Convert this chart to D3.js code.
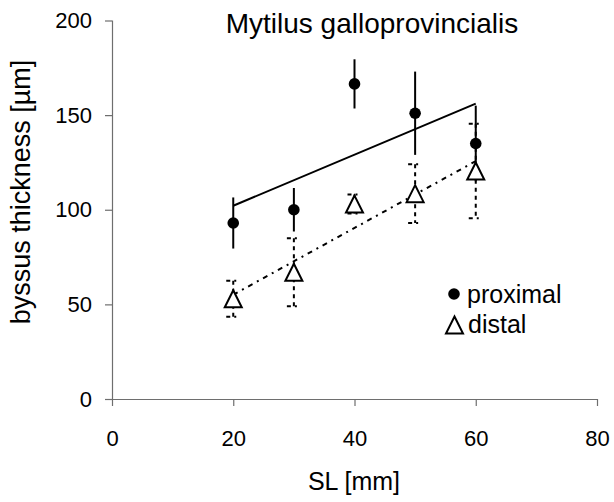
<!DOCTYPE html>
<html>
<head>
<meta charset="utf-8">
<script src="https://cdn.jsdelivr.net/npm/d3@7"></script>
<style>
  body { margin: 0; background: #fff; }
  text { font-family: "Liberation Sans", Arial, sans-serif; fill: #000; }
</style>
</head>
<body>
<div id="chart"></div>
<script>
// data
var shellLength = [20, 30, 40, 50, 60];
var proximal = [93, 100, 166.5, 151, 135];
var proximalErr = [13.5, 11.5, 13, 22, 20];
var distal = [53, 67, 103, 108.5, 120.5];
var distalErr = [9.5, 18, 5, 15.5, 25];
var xTicks = [0, 20, 40, 60, 80];
var yTicks = [0, 50, 100, 150, 200];

var svgWidth = 614;
var svgHeight = 502;
var margin = { top: 20.5, right: 17, bottom: 103, left: 112 };
var chartWidth = svgWidth - margin.left - margin.right;
var chartHeight = svgHeight - margin.top - margin.bottom;

var svg = d3.select("#chart").append("svg")
  .attr("width", svgWidth)
  .attr("height", svgHeight);

var g = svg.append("g")
  .attr("transform", `translate(${margin.left}, ${margin.top})`);

var x = d3.scaleLinear().domain([0, 80]).range([0, chartWidth]);
var y = d3.scaleLinear().domain([0, 200]).range([chartHeight, 0]);

// axes
var xAxis = g.append("g")
  .attr("transform", `translate(0, ${chartHeight})`)
  .call(d3.axisBottom(x).tickValues(xTicks).tickSize(7).tickPadding(8));
var yAxis = g.append("g")
  .call(d3.axisLeft(y).tickValues(yTicks).tickSize(7).tickPadding(13));

[xAxis, yAxis].forEach(function(a) {
  a.select(".domain").attr("stroke", "#6e6e6e").attr("stroke-width", 1.2);
  a.selectAll(".tick line").attr("stroke", "#6e6e6e").attr("stroke-width", 1.2);
  a.selectAll(".tick text").style("font-family", "'Liberation Sans', Arial, sans-serif")
    .style("font-size", "22px").attr("fill", "#000");
});
xAxis.selectAll(".tick text").attr("dy", "0.71em").attr("y", 31);
xAxis.select(".domain").attr("d", `M0,0.5H${chartWidth}`);
yAxis.select(".domain").attr("d", `M0.5,${chartHeight}V0`);

// least squares trend through the means
function fit(xs, ys) {
  var mx = d3.mean(xs), my = d3.mean(ys);
  var sxy = d3.sum(xs, (v, i) => (v - mx) * (ys[i] - my));
  var sxx = d3.sum(xs, v => (v - mx) * (v - mx));
  var b = sxy / sxx;
  return function(v) { return my + b * (v - mx); };
}
var xEnds = d3.extent(shellLength);

// proximal error bars (solid, no caps)
g.append("g").selectAll("line")
  .data(shellLength)
  .enter().append("line")
  .attr("x1", d => x(d)).attr("x2", d => x(d))
  .attr("y1", (d, i) => y(proximal[i] + proximalErr[i]))
  .attr("y2", (d, i) => y(proximal[i] - proximalErr[i]))
  .attr("stroke", "#000").attr("stroke-width", 2);

// distal error bars (dashed with caps)
var distalBars = g.append("g");
shellLength.forEach(function(d, i) {
  var top = y(distal[i] + distalErr[i]);
  var bot = y(distal[i] - distalErr[i]);
  distalBars.append("line")
    .attr("x1", x(d)).attr("x2", x(d)).attr("y1", top).attr("y2", bot)
    .attr("stroke", "#000").attr("stroke-width", 2).attr("stroke-dasharray", "4,4");
  [top, bot].forEach(function(cy) {
    distalBars.append("line")
      .attr("x1", x(d) - 7).attr("x2", x(d) + 7).attr("y1", cy).attr("y2", cy)
      .attr("stroke", "#000").attr("stroke-width", 2).attr("stroke-dasharray", "4,4,2,4");
  });
});

// trend lines
var pFit = fit(shellLength, proximal);
var dFit = fit(shellLength, distal);
g.append("line")
  .attr("x1", x(xEnds[0])).attr("x2", x(xEnds[1]))
  .attr("y1", y(pFit(xEnds[0]))).attr("y2", y(pFit(xEnds[1])))
  .attr("stroke", "#000").attr("stroke-width", 2);
g.append("line")
  .attr("x1", x(xEnds[0])).attr("x2", x(xEnds[1]))
  .attr("y1", y(dFit(xEnds[0]))).attr("y2", y(dFit(xEnds[1])))
  .attr("stroke", "#000").attr("stroke-width", 2).attr("stroke-dasharray", "5,5,2,5");

// markers
var triPath = "M0,-8.5L8.5,8.5L-8.5,8.5Z";
g.append("g").selectAll("path")
  .data(shellLength)
  .enter().append("path")
  .attr("d", triPath)
  .attr("transform", (d, i) => `translate(${x(d)}, ${y(distal[i])})`)
  .attr("fill", "#fff").attr("stroke", "#000").attr("stroke-width", 2);

g.append("g").selectAll("circle")
  .data(shellLength)
  .enter().append("circle")
  .attr("cx", d => x(d))
  .attr("cy", (d, i) => y(proximal[i]))
  .attr("r", 5.8)
  .attr("fill", "#000");

// title
svg.append("text")
  .attr("x", 372).attr("y", 33)
  .attr("text-anchor", "middle")
  .style("font-size", "28px")
  .text("Mytilus galloprovincialis");

// axis labels
svg.append("text")
  .attr("x", 354).attr("y", 490)
  .attr("text-anchor", "middle")
  .style("font-size", "25px")
  .text("SL [mm]");

svg.append("text")
  .attr("transform", "translate(30, 192) rotate(-90)")
  .attr("text-anchor", "middle")
  .style("font-size", "27px")
  .text("byssus thickness [µm]");

// legend
var legend = svg.append("g");
legend.append("circle").attr("cx", 454).attr("cy", 294).attr("r", 5.8).attr("fill", "#000");
legend.append("text").attr("x", 467).attr("y", 303).style("font-size", "25px").text("proximal");
legend.append("path").attr("d", triPath)
  .attr("transform", "translate(454.5, 325)")
  .attr("fill", "#fff").attr("stroke", "#000").attr("stroke-width", 2);
legend.append("text").attr("x", 468).attr("y", 333).style("font-size", "25px").text("distal");
</script>
</body>
</html>
